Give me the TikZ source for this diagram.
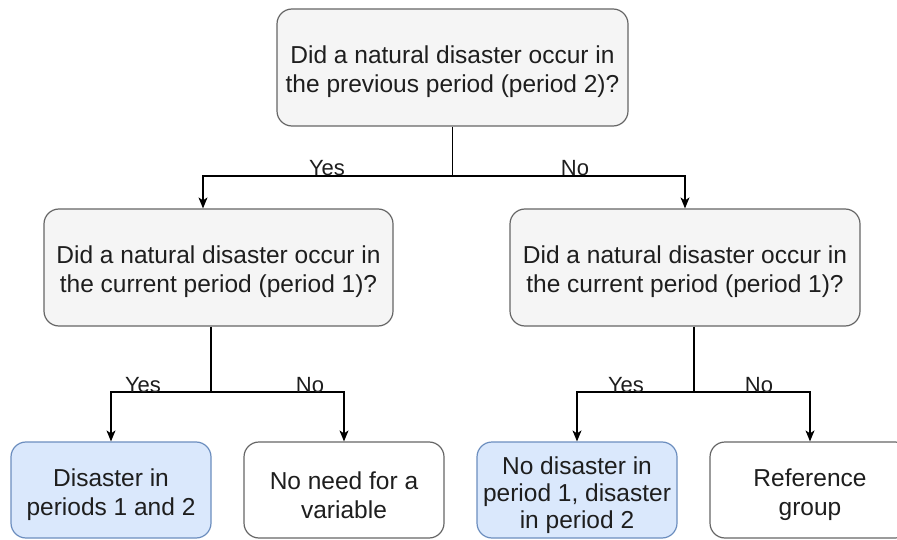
\documentclass[tikz,border=0pt]{standalone}
\usepackage{fontspec}
\setmainfont{Liberation Sans}
\usetikzlibrary{arrows.meta}
\definecolor{grayfill}{HTML}{F5F5F5}
\definecolor{grayline}{HTML}{666666}
\definecolor{bluefill}{HTML}{DAE8FC}
\definecolor{blueline}{HTML}{6C8EBF}
\definecolor{txt}{HTML}{1E1E1E}
\newcommand{\tstr}{\rule{0pt}{26pt}}
\tikzset{
  box/.style={rectangle, rounded corners=15pt, line width=1.2pt, align=center,
    inner sep=0pt, text=txt, font=\fontsize{24.5}{29}\selectfont},
  qbox/.style={box, draw=grayline, fill=grayfill, minimum height=117pt},
  bluebox/.style={box, draw=blueline, fill=bluefill, minimum width=200pt, minimum height=96pt},
  whitebox/.style={box, draw=grayline, fill=white, minimum width=200pt, minimum height=96pt},
  conn/.style={line width=1.2pt, draw=black},
  arr/.style={conn, -{Stealth[length=11pt,width=9pt,inset=3pt]}},
  lbl/.style={anchor=base, inner sep=0pt, text=txt, font=\fontsize{22}{26}\selectfont},
}
\begin{document}
\begin{tikzpicture}[x=1pt,y=-1pt]
\useasboundingbox[fill=white] (0,0) rectangle (897,540);
\node[qbox, minimum width=351pt] (top) at (452.5,67.5) {\tstr Did a natural disaster occur in\\the previous period (period 2)?};
\node[qbox, minimum width=349pt] (m1) at (218.5,267.5) {\tstr Did a natural disaster occur in\\the current period (period 1)?};
\node[qbox, minimum width=350pt] (m2) at (685,267.5) {\tstr Did a natural disaster occur in\\the current period (period 1)?};
\node[bluebox] (b1) at (111,490) {\rule{0pt}{28pt}Disaster in\\periods 1 and 2};
\node[whitebox] (b2) at (344,490) {\rule{0pt}{28pt}No need for a\\variable};
\node[bluebox, font=\fontsize{24.5}{27}\selectfont] (b3) at (577,490) {\rule{0pt}{28pt}No disaster in\\period 1, disaster\\in period 2};
\node[whitebox] (b4) at (810,490) {\rule{0pt}{28pt}Reference\\group};
% top level
\coordinate (j0) at (452.5,176);
\draw[arr] (top.south) -- (j0) -| ([xshift=-15.5pt]m1.north);
\draw[arr] (j0) -| (m2.north);
\node[lbl] (y0) at (327,176) {Yes};
\node[lbl] (n0) at (575,176) {No};
% left
\coordinate (j1) at (211,392);
\draw[arr] ([xshift=-7.5pt]m1.south) -- (j1) -| (b1.north);
\draw[arr] (j1) -| (b2.north);
\node[lbl] (y1) at (143,392) {Yes};
\node[lbl] (n1) at (310,392) {No};
% right
\coordinate (j2) at (694,392);
\draw[arr] ([xshift=9pt]m2.south) -- (j2) -| (b3.north);
\draw[arr] (j2) -| (b4.north);
\node[lbl] (y2) at (626,392) {Yes};
\node[lbl] (n2) at (759,392) {No};
\end{tikzpicture}
\end{document}
